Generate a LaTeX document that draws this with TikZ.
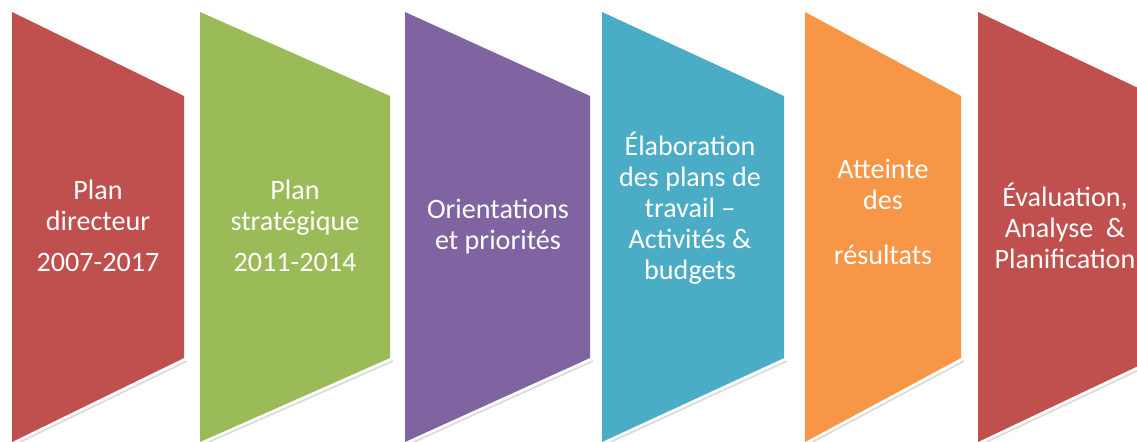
\documentclass[tikz,border=0pt]{standalone}
\usepackage{fontspec}
\setmainfont{Carlito}
\definecolor{planred}{HTML}{C0504D}
\definecolor{plangreen}{HTML}{9BBB59}
\definecolor{planpurple}{HTML}{8064A2}
\definecolor{planteal}{HTML}{4BACC6}
\definecolor{planorange}{HTML}{F79646}
\tikzset{
  stage/.style = {text=white, align=center, font=\fontsize{16}{17.6}\selectfont},
  rim/.style   = {draw=black!15, line width=0.9pt}
}

\begin{document}
\begin{tikzpicture}[x=0.02cm, y=-0.02cm]
      \useasboundingbox (0,0) rectangle (1137,442);
      \clip (0,0) rectangle (1137,442);
      % plan directeur
      \draw[rim] (14,445) -- (187,361);
      \fill[planred] (12,12) -- (184,96) -- (184,358) -- (12,442) -- cycle;
      \node[stage] (directeur) at (98,226) {Plan\\directeur\\[6pt]2007-2017};
      % plan strategique
      \draw[rim] (202,445) -- (393,361);
      \fill[plangreen] (200,12) -- (390,96) -- (390,358) -- (200,442) -- cycle;
      \node[stage] (strategique) at (295,226) {Plan\\strat\'egique\\[6pt]2011-2014};
      % orientations
      \draw[rim] (407,445) -- (593,361);
      \fill[planpurple] (405,12) -- (590,96) -- (590,358) -- (405,442) -- cycle;
      \node[stage] (orientations) at (498,227) {Orientations\\et priorit\'es};
      % plans de travail
      \draw[rim] (604,445) -- (787,361);
      \fill[planteal] (602,12) -- (784,96) -- (784,358) -- (602,442) -- cycle;
      \node[stage] (travail) at (690,208) {\'Elaboration\\des plans de\\travail --\\Activit\'es \&\\budgets};
      % resultats
      \draw[rim] (807,445) -- (964,361);
      \fill[planorange] (805,12) -- (961,96) -- (961,358) -- (805,442) -- cycle;
      \node[stage] (resultats) at (883,212) {Atteinte\\des\\[14pt]r\'esultats};
      % evaluation
      \draw[rim] (980,445) -- (1158,361);
      \fill[planred] (978,12) -- (1155,96) -- (1155,358) -- (978,442) -- cycle;
      \node[stage] (evaluation) at (1065,226) {\'Evaluation,\\Analyse~~\&\\Planification};
\end{tikzpicture}
\end{document}
